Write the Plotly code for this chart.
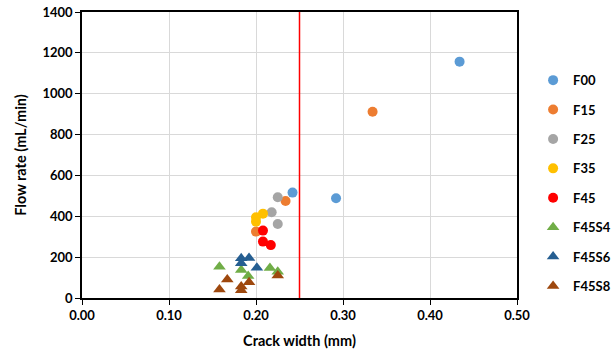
import plotly.graph_objects as go

names = ["F00", "F15", "F25", "F35", "F45", "F45S4", "F45S6", "F45S8"]
colors = ["#5B9BD5", "#ED7D31", "#A5A5A5", "#FFC000", "#FF0000", "#70AD47", "#255E91", "#9E480E"]
symbols = ["circle"] * 5 + ["triangle-up"] * 3

F00_x = [0.434, 0.292, 0.242]
F00_y = [1157, 488, 516]
F15_x = [0.334, 0.234, 0.200]
F15_y = [912, 475, 325]
F25_x = [0.225, 0.218, 0.225]
F25_y = [493, 420, 362]
F35_x = [0.208, 0.200, 0.200]
F35_y = [413, 395, 374]
F45_x = [0.208, 0.208, 0.217]
F45_y = [330, 276, 259]
F45S4_x = [0.158, 0.183, 0.191, 0.216, 0.225]
F45S4_y = [153, 137, 108, 147, 129]
F45S6_x = [0.183, 0.192, 0.183, 0.201]
F45S6_y = [194, 196, 170, 148]
F45S8_x = [0.158, 0.167, 0.183, 0.183, 0.192, 0.225]
F45S8_y = [42, 90, 38, 56, 77, 110]

limit_x = [0.25, 0.25]
limit_y = [0, 1400]

xs = [F00_x, F15_x, F25_x, F35_x, F45_x, F45S4_x, F45S6_x, F45S8_x]
ys = [F00_y, F15_y, F25_y, F35_y, F45_y, F45S4_y, F45S6_y, F45S8_y]

fig = go.Figure()
fig.add_trace(go.Scatter(x=limit_x, y=limit_y, mode="lines",
                         line=dict(color="#FF0000", width=1.5),
                         showlegend=False, hoverinfo="skip"))
for i, n in enumerate(names):
    fig.add_trace(go.Scatter(
        x=xs[i], y=ys[i], mode="markers", name=n, legendgroup=n,
        marker=dict(color=colors[i], symbol=symbols[i],
                    size=10 if symbols[i] == "circle" else 11,
                    line=dict(width=0))))

font_family = "Lato, 'Open Sans', sans-serif"
fig.update_layout(
    width=613, height=358,
    margin=dict(l=82, r=96, t=12, b=60, autoexpand=False),
    paper_bgcolor="white", plot_bgcolor="white",
    font=dict(family=font_family, size=13, color="#000000"),
    legend=dict(x=1.037, y=0.814, xanchor="left", yanchor="top",
                traceorder="grouped", tracegroupgap=9.5,
                font=dict(family=font_family, size=13, color="#000000", weight="bold"),
                itemwidth=30, bgcolor="rgba(0,0,0,0)"),
    showlegend=True,
)
fig.update_xaxes(range=[0, 0.5], dtick=0.1, tickformat=".2f",
                 showgrid=True, gridcolor="#D9D9D9", gridwidth=1,
                 showline=True, linecolor="#000000", linewidth=1.5, mirror=True,
                 ticks="outside", ticklen=5, tickcolor="#000000",
                 tickfont=dict(size=13, weight="bold"), zeroline=False,
                 title=dict(text="<b>Crack width (mm)</b>", font=dict(size=14.5), standoff=14))
fig.update_yaxes(range=[0, 1400], dtick=200,
                 showgrid=True, gridcolor="#D9D9D9", gridwidth=1,
                 showline=True, linecolor="#000000", linewidth=1.5, mirror=True,
                 ticks="outside", ticklen=5, tickcolor="#000000",
                 tickfont=dict(size=13, weight="bold"), zeroline=False,
                 title=dict(text="<b>Flow rate (mL/min)</b>", font=dict(size=14.5), standoff=12))

fig.write_html("out.html")
